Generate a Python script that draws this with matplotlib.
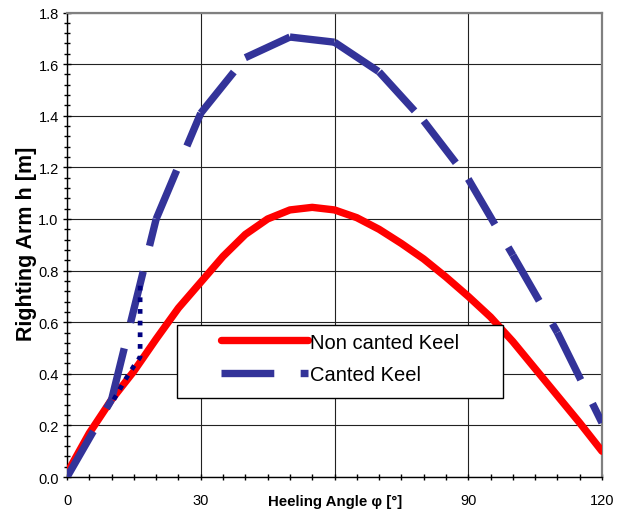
import matplotlib
matplotlib.use('Agg')
import matplotlib.pyplot as plt
from matplotlib.ticker import MultipleLocator
from matplotlib.patches import Rectangle

plt.rcParams['font.family'] = ['Liberation Sans', 'DejaVu Sans']
plt.rcParams['lines.scale_dashes'] = False

# Non canted keel (solid red), read every 5 degrees
angulo_nc = [0, 5, 10, 15, 20, 25, 30, 35, 40, 45, 50, 55, 60,
             65, 70, 75, 80, 85, 90, 95, 100, 105, 110, 115, 120]
brazo_nc = [0.015, 0.17, 0.30, 0.41, 0.535, 0.655, 0.755, 0.855, 0.94, 1.0, 1.035, 1.045, 1.035,
            1.005, 0.96, 0.905, 0.845, 0.775, 0.70, 0.62, 0.525, 0.42, 0.315, 0.21, 0.10]

# Canted keel (dashed blue), data every 10 degrees
angulo_c = [0, 10, 20, 30, 40, 50, 60, 70, 80, 90, 100, 110, 120]
brazo_c = [0.0, 0.30, 1.0, 1.41, 1.625, 1.705, 1.685, 1.57, 1.38, 1.155, 0.86, 0.56, 0.21]

# transicion (punteado azul oscuro)
angulo_t = [10.5, 13, 15, 16.4, 16.4]
brazo_t = [0.30, 0.375, 0.43, 0.465, 0.75]

fig = plt.figure(figsize=(6.25, 5.10), dpi=100)
ax = fig.add_axes([0.1072, 0.0627, 0.856, 0.9108])

ax.plot(angulo_nc, brazo_nc, color='#FF0000', lw=5.3, solid_capstyle='round',
        solid_joinstyle='round', label='Non canted Keel', zorder=3)

# Excel reinicia el patron de rayas en cada punto
for i in range(len(angulo_c) - 1):
    ax.plot(angulo_c[i:i + 2], brazo_c[i:i + 2], color='#333399', lw=5.3,
            dashes=(38, 19), dash_capstyle='butt',
            label='Canted Keel' if i == 0 else None, zorder=3)

ax.plot(angulo_t, brazo_t, color='#000080', lw=3.4, dashes=(3.4, 5),
        dash_capstyle='butt', zorder=4)

ax.set_xlim(0, 120)
ax.set_ylim(0, 1.8)
ax.set_xticks([0, 30, 60, 90, 120])
ax.set_xticklabels(['0', '30', '', '90', '120'])
ax.set_yticks([0, 0.2, 0.4, 0.6, 0.8, 1.0, 1.2, 1.4, 1.6, 1.8])
ax.set_yticklabels(['%.1f' % v for v in ax.get_yticks()])
ax.xaxis.set_minor_locator(MultipleLocator(5))
ax.yaxis.set_minor_locator(MultipleLocator(0.04))
ax.grid(True, which='major', color='#222222', lw=0.8)
ax.set_axisbelow(True)

ax.tick_params(axis='x', which='both', direction='inout', length=5, width=1,
               labelsize=10.5, pad=9)
ax.tick_params(axis='y', which='major', direction='inout', length=6, width=1,
               labelsize=10.5, pad=3)
ax.tick_params(axis='y', which='minor', direction='inout', length=4.5, width=1)

for lado in ['top', 'right']:
    ax.spines[lado].set_color('#808080')
    ax.spines[lado].set_linewidth(1.6)
for lado in ['left', 'bottom']:
    ax.spines[lado].set_color('black')
    ax.spines[lado].set_linewidth(1)

ax.set_xlabel('Heeling Angle φ [°]', fontsize=10.8, fontweight='bold')
ax.xaxis.set_label_coords(0.501, -0.036)
ax.set_ylabel('Righting Arm h [m]', fontsize=15.5, fontweight='bold')
ax.yaxis.set_label_coords(-0.056, 0.505)

caja = Rectangle((24.7, 0.3076), 73.05, 0.2804, facecolor='white', edgecolor='black',
                 lw=1, zorder=5)
ax.add_patch(caja)
leg = ax.legend(loc='center', bbox_to_anchor=(61.3, 0.461), bbox_transform=ax.transData,
                frameon=False, fontsize=14.5, handlelength=4.33, handletextpad=0.1,
                labelspacing=0.65, borderpad=0, borderaxespad=0)
leg.set_zorder(6)

plt.savefig('out.png', dpi=100)
